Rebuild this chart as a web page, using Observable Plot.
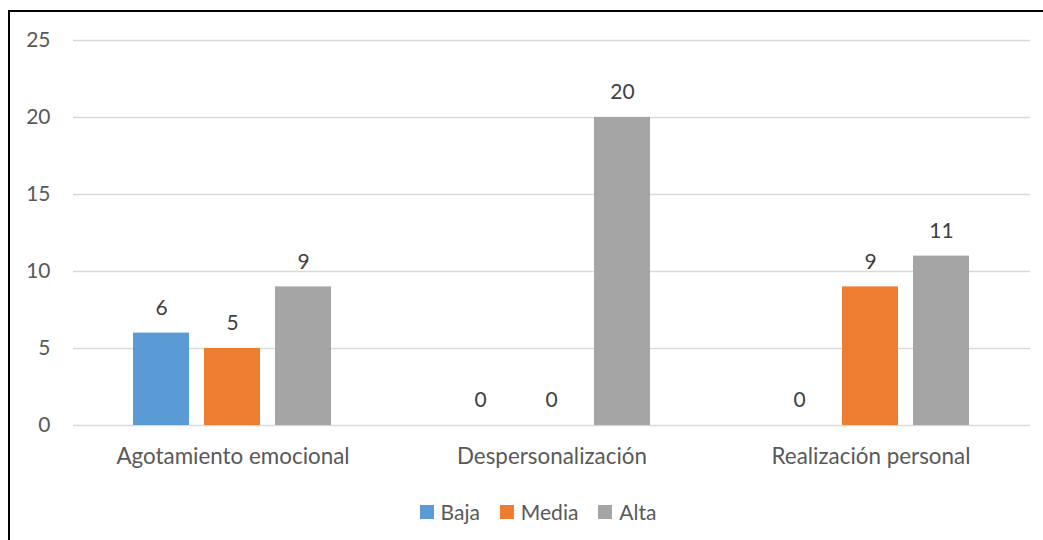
<!DOCTYPE html>
<html>
<head>
<meta charset="utf-8">
<script src="https://cdn.jsdelivr.net/npm/d3@7"></script>
<script src="https://cdn.jsdelivr.net/npm/@observablehq/plot@0.6"></script>
<style>
  body { margin: 0; background: #fff; font-family: Lato, "Open Sans", sans-serif; }
  #wrap { position: relative; width: 1043px; height: 540px; overflow: hidden; background: #fff; }
  #frame { position: absolute; left: 8px; top: 10px; width: 1100px; height: 600px; border: 2px solid #000; box-sizing: border-box; }
  #chart { position: absolute; left: 0; top: 0; }
  #legend { position: absolute; left: 0; top: 499px; width: 1076px; display: flex; justify-content: center; gap: 20px; font-size: 21px; color: #595959; }
  .item { display: flex; align-items: center; }
  .sw { width: 14px; height: 14px; margin-right: 7px; }
</style>
</head>
<body>
<div id="wrap">
  <div id="frame"></div>
  <div id="chart"></div>
  <div id="legend"></div>
</div>
<script>
const categories = ["Agotamiento emocional", "Despersonalización", "Realización personal"];
const series = ["Baja", "Media", "Alta"];
const colors = ["#5B9BD5", "#ED7D31", "#A5A5A5"];
const baja = [6, 0, 0];
const media = [5, 0, 9];
const alta = [9, 20, 11];
const yTicks = [0, 5, 10, 15, 20, 25];

const valuesBySeries = [baja, media, alta];
const data = [];
categories.forEach((c, i) => {
  series.forEach((s, j) => {
    data.push({category: c, series: s, value: valuesBySeries[j][i]});
  });
});

const chart = Plot.plot({
  width: 1043,
  height: 490,
  marginLeft: 73,
  marginRight: 13,
  marginTop: 40,
  marginBottom: 65,
  style: {fontFamily: "Lato, 'Open Sans', sans-serif", background: "transparent"},
  fx: {domain: categories, paddingInner: 0, paddingOuter: 0, label: null},
  x: {domain: series, paddingInner: 0.21, paddingOuter: 0.85, axis: null},
  y: {domain: [0, 25], label: null},
  color: {domain: series, range: colors},
  marks: [
    Plot.axisY({ticks: yTicks, tickSize: 0, tickPadding: 23, fontSize: 21, color: "#595959", label: null}),
    Plot.gridY(yTicks, {stroke: "#d9d9d9", strokeOpacity: 1, strokeWidth: 1.3}),
    Plot.axisFx({tickSize: 0, tickPadding: 23, fontSize: 22.4, color: "#595959", label: null, anchor: "bottom"}),
    Plot.barY(data, {fx: "category", x: "series", y: "value", fill: "series"}),
    Plot.text(data, {fx: "category", x: "series", y: "value", text: d => String(d.value), dy: -25, fontSize: 21, fill: "#404040"})
  ]
});
document.getElementById("chart").appendChild(chart);

const legend = document.getElementById("legend");
series.forEach((s, j) => {
  const item = document.createElement("div");
  item.className = "item";
  const sw = document.createElement("div");
  sw.className = "sw";
  sw.style.background = colors[j];
  item.appendChild(sw);
  const t = document.createElement("span");
  t.textContent = s;
  item.appendChild(t);
  legend.appendChild(item);
});
</script>
</body>
</html>
